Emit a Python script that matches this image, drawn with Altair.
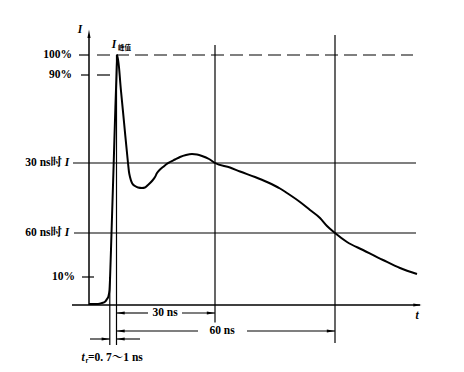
import altair as alt
import pandas as pd

# ---- waveform (schematic time units, current in % of peak) ----
wave_t = [0, 9, 13, 16, 18, 19.3, 20.5, 21, 22.5, 24.7, 26.4, 27.5, 28.3,
          32, 35, 39, 40, 41, 43, 46, 49, 53, 56, 59, 63, 66, 68, 71, 74, 77,
          81, 86, 91, 97, 103, 108, 113, 120, 126, 141, 151, 166, 178, 191,
          198, 211, 221, 231, 238, 246, 258, 274, 294, 311, 328]
wave_i = [0.4, 0.4, 0.8, 1.3, 2.4, 3.3, 6, 10, 28.8, 56.8, 79.2, 92, 100,
          85.6, 73.2, 56.8, 53.2, 51.2, 48.8, 47.6, 47, 46.8, 47, 48, 49.6,
          51.2, 52.8, 54.2, 55.2, 56.2, 57.2, 58.2, 59.2, 60, 60.4, 60.2,
          59.6, 58.4, 56.8, 55, 53.4, 51.2, 49.2, 46.6, 44.8, 41.2, 38, 34.8,
          31.6, 28.8, 25.2, 22, 18, 14.8, 12.4]

# ---- key levels / instants ----
level_names = ["100%", "90%", "30 ns时", "60 ns时", "10%"]
level_vals = [100, 92, 56.8, 28.8, 11.2]
t_10 = 20.8      # 10 % crossing
t_peak = 27.5    # start of the 30/60 ns intervals
t_30 = 126
t_60 = 246
dim_30 = "30 ns"
dim_60 = "60 ns"
rise_text = "=0. 7～1 ns"

SERIF = "Liberation Serif, Noto Serif CJK SC, Noto Sans CJK SC"
CJK = "Noto Sans CJK SC"

X = alt.Scale(domain=[-81, 367], nice=False, zero=False)
Y = alt.Scale(domain=[-23.6, 118.8], nice=False, zero=False)


def xe(f="x"):
    return alt.X(f"{f}:Q", scale=X, axis=None)


def ye(f="y"):
    return alt.Y(f"{f}:Q", scale=Y, axis=None)


wave = pd.DataFrame({"t": wave_t, "i": wave_i, "o": range(len(wave_t))})
curve = alt.Chart(wave).mark_line(color="black", strokeWidth=2, interpolate="monotone").encode(
    x=alt.X("t:Q", scale=X, axis=None), y=alt.Y("i:Q", scale=Y, axis=None), order="o:Q")

# solid segments
solid = pd.DataFrame([
    # axes
    dict(x=-17, x2=331, y=0, y2=0, w=1.5),
    dict(x=0, x2=0, y=0, y2=108, w=1.5),
    # level ticks / lines
    dict(x=-10, x2=0, y=level_vals[0], y2=level_vals[0], w=1.2),
    dict(x=-8, x2=0, y=level_vals[1], y2=level_vals[1], w=1.2),
    dict(x=-16, x2=327, y=level_vals[2], y2=level_vals[2], w=1.2),
    dict(x=-15, x2=327, y=level_vals[3], y2=level_vals[3], w=1.2),
    dict(x=-7, x2=5, y=level_vals[4], y2=level_vals[4], w=1.2),
    # vertical markers
    dict(x=t_10, x2=t_10, y=level_vals[4], y2=-16, w=1.2),
    dict(x=t_peak, x2=t_peak, y=100, y2=-16, w=1.2),
    dict(x=t_30, x2=t_30, y=104, y2=-7, w=1.2),
    dict(x=t_60, x2=t_60, y=108, y2=-15.2, w=1.2),
    # dimension lines
    dict(x=t_peak, x2=59, y=-3.2, y2=-3.2, w=1.1),
    dict(x=93, x2=t_30, y=-3.2, y2=-3.2, w=1.1),
    dict(x=t_peak, x2=109, y=-10.4, y2=-10.4, w=1.1),
    dict(x=158, x2=t_60, y=-10.4, y2=-10.4, w=1.1),
    dict(x=1, x2=t_10, y=-13.6, y2=-13.6, w=1.1),
    dict(x=t_peak, x2=51, y=-13.6, y2=-13.6, w=1.1),
])
rules = alt.Chart(solid).mark_rule(color="black").encode(
    x=xe(), x2="x2:Q", y=ye(), y2="y2:Q", strokeWidth=alt.StrokeWidth("w:Q", scale=None))

dashed = pd.DataFrame([
    dict(x=8, x2=324, y=level_vals[0], y2=level_vals[0]),
    dict(x=8, x2=26, y=level_vals[1], y2=level_vals[1]),
])
dash_rules = alt.Chart(dashed).mark_rule(color="black", strokeWidth=1.2, strokeDash=[13, 6]).encode(
    x=xe(), x2="x2:Q", y=ye(), y2="y2:Q")

# arrowheads (angle 0 = pointing right)
arrows = pd.DataFrame([
    dict(x=328.5, y=0, a=0),
    dict(x=0, y=108.5, a=270),
    dict(x=t_peak + 4, y=-3.2, a=180),
    dict(x=t_30 - 4, y=-3.2, a=0),
    dict(x=t_peak + 4, y=-10.4, a=180),
    dict(x=t_60 - 4, y=-10.4, a=0),
    dict(x=t_10 - 4, y=-13.6, a=0),
    dict(x=t_peak + 4, y=-13.6, a=180),
])
heads = alt.Chart(arrows).mark_point(
    shape="M1,0L-1,-0.38L-1,0.38Z", filled=True, color="black", opacity=1, size=70, strokeWidth=0
).encode(x=xe(), y=ye(), angle=alt.Angle("a:Q", scale=None))

# texts
right_txt = pd.DataFrame([
    dict(x=-17, y=level_vals[0], s=level_names[0]),
    dict(x=-17, y=level_vals[1], s=level_names[1]),
    dict(x=-27, y=level_vals[2], s=level_names[2]),
    dict(x=-27, y=level_vals[3], s=level_names[3]),
    dict(x=-14, y=level_vals[4], s=level_names[4]),
])
t_right = alt.Chart(right_txt).mark_text(align="right", baseline="middle", font=SERIF,
                                         fontSize=11.5, fontWeight="bold", color="black").encode(
    x=xe(), y=ye(), text="s:N")

center_txt = pd.DataFrame([
    dict(x=76, y=-3.2, s=dim_30),
    dict(x=133, y=-10.4, s=dim_60),
])
t_center = alt.Chart(center_txt).mark_text(align="center", baseline="middle", font=SERIF,
                                           fontSize=11.5, fontWeight="bold", color="black").encode(
    x=xe(), y=ye(), text="s:N")

ital_txt = pd.DataFrame([
    dict(x=-22, y=level_vals[2], s="I"),
    dict(x=-22, y=level_vals[3], s="I"),
    dict(x=-9, y=110, s="I"),
    dict(x=25, y=104, s="I"),
    dict(x=328, y=-4.5, s="t"),
    dict(x=-6, y=-21, s="t"),
])
t_ital = alt.Chart(ital_txt).mark_text(align="center", baseline="middle", font=SERIF,
                                       fontSize=11.5, fontStyle="italic", fontWeight="bold",
                                       color="black").encode(x=xe(), y=ye(), text="s:N")

sub_txt = pd.DataFrame([
    dict(x=29, y=103, s="峰值"),
    dict(x=-3.5, y=-22.3, s="r"),
])
t_sub = alt.Chart(sub_txt).mark_text(align="left", baseline="middle", font=CJK,
                                     fontSize=6.5, fontWeight="bold", color="black").encode(
    x=xe(), y=ye(), text="s:N")

left_txt = pd.DataFrame([dict(x=-1, y=-21, s=rise_text)])
t_left = alt.Chart(left_txt).mark_text(align="left", baseline="middle", font=SERIF,
                                       fontSize=11.5, fontWeight="bold", color="black").encode(
    x=xe(), y=ye(), text="s:N")

chart = alt.layer(rules, dash_rules, curve, heads, t_right, t_center, t_ital, t_sub, t_left).properties(
    width=448, height=356, padding=0, autosize=alt.AutoSizeParams(type="none"),
    background="white"
).configure_view(stroke=None)

chart.save("out.html", embed_options={"renderer": "svg", "actions": False})
